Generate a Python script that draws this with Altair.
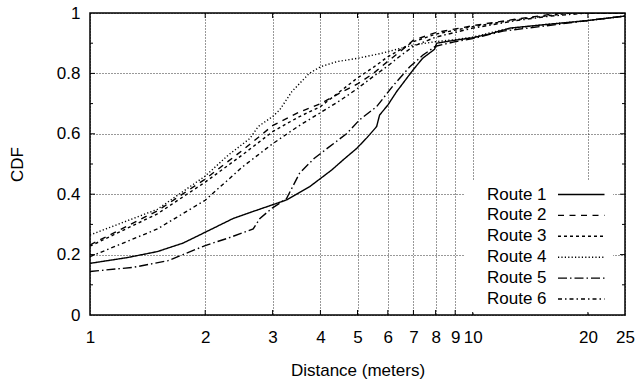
import altair as alt
import pandas as pd

routes = ["Route 1", "Route 2", "Route 3", "Route 4", "Route 5", "Route 6"]

r1_x = [1, 1.25, 1.5, 1.75, 2, 2.37, 2.67, 3, 3.26, 3.75, 4.28, 4.6, 4.98, 5.3, 5.61, 5.71, 6, 6.33, 6.98, 7.4, 7.8, 7.95, 8.05, 9, 10, 11, 12, 12.5, 15, 20, 25]
r1_y = [0.171, 0.19, 0.21, 0.238, 0.274, 0.32, 0.343, 0.365, 0.381, 0.425, 0.48, 0.515, 0.552, 0.588, 0.624, 0.662, 0.695, 0.74, 0.811, 0.85, 0.872, 0.88, 0.9, 0.91, 0.918, 0.93, 0.943, 0.95, 0.96, 0.975, 0.99]

r2_x = [1, 1.5, 2, 2.5, 3, 3.5, 4, 4.5, 5, 5.5, 6, 6.5, 7, 8, 10, 13, 17, 25]
r2_y = [0.232, 0.345, 0.45, 0.545, 0.627, 0.67, 0.70, 0.735, 0.765, 0.8, 0.84, 0.875, 0.91, 0.935, 0.958, 0.98, 1.0, 1.0]

r3_x = [1, 1.5, 2, 2.5, 3, 3.5, 4, 4.5, 5, 5.5, 6, 6.5, 7, 8, 10, 13, 18, 25]
r3_y = [0.228, 0.335, 0.44, 0.53, 0.607, 0.655, 0.69, 0.74, 0.785, 0.82, 0.855, 0.88, 0.905, 0.93, 0.955, 0.978, 1.0, 1.0]

r4_x = [1, 1.5, 2, 2.3, 2.62, 2.75, 3, 3.13, 3.37, 3.74, 4, 4.42, 5, 5.8, 7, 8, 9, 10, 12, 15, 20, 25]
r4_y = [0.265, 0.35, 0.46, 0.53, 0.585, 0.624, 0.657, 0.679, 0.74, 0.80, 0.822, 0.839, 0.85, 0.867, 0.894, 0.905, 0.912, 0.92, 0.945, 0.96, 0.975, 0.99]

r5_x = [1, 1.3, 1.6, 2, 2.3, 2.67, 2.78, 3, 3.26, 3.53, 3.85, 4.2, 4.68, 5.06, 5.61, 6.2, 6.85, 7.4, 8, 9, 10, 12, 15, 20, 25]
r5_y = [0.144, 0.158, 0.18, 0.23, 0.255, 0.285, 0.32, 0.355, 0.385, 0.47, 0.518, 0.555, 0.60, 0.646, 0.69, 0.76, 0.822, 0.86, 0.89, 0.905, 0.915, 0.94, 0.955, 0.975, 0.99]

r6_x = [1, 1.5, 2, 2.5, 3, 3.5, 4, 4.5, 5, 5.5, 6, 6.5, 7, 8, 10, 13, 16, 20, 25]
r6_y = [0.193, 0.285, 0.38, 0.49, 0.567, 0.625, 0.67, 0.71, 0.75, 0.79, 0.825, 0.86, 0.89, 0.92, 0.95, 0.975, 0.99, 1.0, 1.0]

x_tick_values = [1, 2, 3, 4, 5, 6, 7, 8, 9, 10, 20, 25]
x_inner_ticks = [2, 3, 4, 5, 6, 7, 8, 9, 10, 20]
y_tick_values = [0, 0.2, 0.4, 0.6, 0.8, 1]
y_major_inner = [0.2, 0.4, 0.6, 0.8]
y_minor_inner = [0.1, 0.3, 0.5, 0.7, 0.9]

dashes = [[1, 0], [6, 5.5], [3, 3], [1.2, 2.2], [9, 3, 1.5, 3], [4, 3, 1.5, 3]]

W, H = 535, 302
FONT = "Liberation Sans"

series = [r1_x, r2_x, r3_x, r4_x, r5_x, r6_x]
values = [r1_y, r2_y, r3_y, r4_y, r5_y, r6_y]
rows = []
for name, xs, ys in zip(routes, series, values):
    for xv, yv in zip(xs, ys):
        rows.append({"route": name, "distance": xv, "cdf": yv})
df = pd.DataFrame(rows)

xscale = alt.Scale(type="log", domain=[1, 25], nice=False)
yscale = alt.Scale(domain=[0, 1], nice=False, zero=False)

xaxis = alt.Axis(
    values=x_tick_values, format="d", title="Distance (meters)",
    labelFont=FONT, labelFontSize=17, labelColor="black", labelPadding=14,
    labelFlush=False, labelOverlap=False, ticks=False, tickSize=0, domain=False,
    grid=True, gridDash=[1, 2], gridColor="black", gridOpacity=0.8, gridWidth=1,
    titleFont=FONT, titleFontSize=17, titleFontWeight="normal", titleColor="black",
    titleX=W / 2, titleY=60, titleBaseline="alphabetic", titleAlign="center",
)
yaxis = alt.Axis(
    values=y_tick_values, format="~g", title="CDF",
    labelFont=FONT, labelFontSize=17, labelColor="black", labelPadding=10,
    labelFlush=False, labelOverlap=False, ticks=False, tickSize=0, domain=False,
    grid=True, gridDash=[1, 2], gridColor="black", gridOpacity=0.8, gridWidth=1,
    titleFont=FONT, titleFontSize=17, titleFontWeight="normal", titleColor="black",
    titleX=-73, titleY=H / 2, titleAngle=270, titleBaseline="middle", titleAlign="center",
)

# line sample drawn to the right of the label (custom path, scaled by sqrt(size)/2 = 5)
legend_symbol = "M15.9,0H25.2"

lines = alt.Chart(df).mark_line(color="black", strokeWidth=1.4, clip=True).encode(
    x=alt.X("distance:Q", scale=xscale, axis=xaxis),
    y=alt.Y("cdf:Q", scale=yscale, axis=yaxis),
    strokeDash=alt.StrokeDash(
        "route:N",
        scale=alt.Scale(domain=routes, range=dashes),
        legend=alt.Legend(
            title=None, orient="none", legendX=375, legendY=168,
            symbolType=legend_symbol, symbolSize=100, symbolStrokeWidth=1.4,
            symbolStrokeColor="black", symbolFillColor="transparent",
            labelFont=FONT, labelFontSize=17, labelColor="black",
            labelAlign="left", labelOffset=0,
            rowPadding=2.9, padding=5, fillColor="white",
        ),
    ),
    order=alt.Order("distance:Q"),
)

xt_df = pd.DataFrame({"distance": x_inner_ticks})
bottom_ticks = alt.Chart(xt_df).mark_rule(color="black", strokeWidth=1).encode(
    x=alt.X("distance:Q", scale=xscale, axis=xaxis),
    y=alt.value(H), y2=alt.value(H - 5),
)
top_ticks = alt.Chart(xt_df).mark_rule(color="black", strokeWidth=1).encode(
    x=alt.X("distance:Q", scale=xscale, axis=xaxis),
    y=alt.value(0), y2=alt.value(5),
)
ymaj_df = pd.DataFrame({"cdf": y_major_inner})
ymin_df = pd.DataFrame({"cdf": y_minor_inner})
left_major = alt.Chart(ymaj_df).mark_rule(color="black", strokeWidth=1).encode(
    y=alt.Y("cdf:Q", scale=yscale, axis=yaxis), x=alt.value(0), x2=alt.value(5))
right_major = alt.Chart(ymaj_df).mark_rule(color="black", strokeWidth=1).encode(
    y=alt.Y("cdf:Q", scale=yscale, axis=yaxis), x=alt.value(W), x2=alt.value(W - 5))
left_minor = alt.Chart(ymin_df).mark_rule(color="black", strokeWidth=1).encode(
    y=alt.Y("cdf:Q", scale=yscale, axis=yaxis), x=alt.value(0), x2=alt.value(3))
right_minor = alt.Chart(ymin_df).mark_rule(color="black", strokeWidth=1).encode(
    y=alt.Y("cdf:Q", scale=yscale, axis=yaxis), x=alt.value(W), x2=alt.value(W - 3))

chart = alt.layer(
    bottom_ticks, top_ticks, left_major, right_major, left_minor, right_minor, lines
).properties(
    width=W, height=H,
    padding={"left": 90, "top": 13, "right": 12, "bottom": 64},
    autosize=alt.AutoSizeParams(type="none"),
    background="white",
).configure_view(
    stroke="black", strokeWidth=1.5,
)

chart.save("out.html", embed_options={"renderer": "svg", "actions": False})
